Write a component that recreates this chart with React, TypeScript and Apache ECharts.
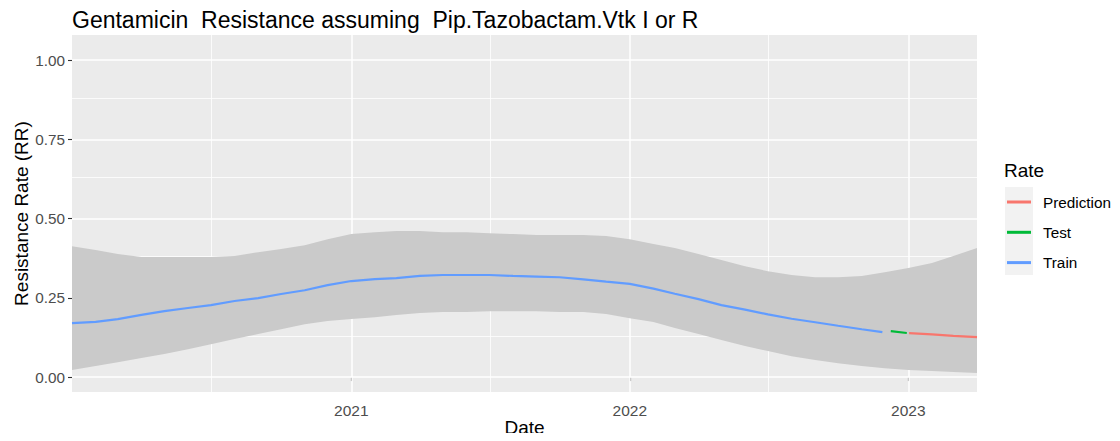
import React, { useEffect, useRef } from 'react';
import * as echarts from 'echarts';

// ---- data ----
const bandDates = [
  '2020-01-01', '2020-02-01', '2020-03-01', '2020-04-01', '2020-05-01', '2020-06-01',
  '2020-07-01', '2020-08-01', '2020-09-01', '2020-10-01', '2020-11-01', '2020-12-01',
  '2021-01-01', '2021-02-01', '2021-03-01', '2021-04-01', '2021-05-01', '2021-06-01',
  '2021-07-01', '2021-08-01', '2021-09-01', '2021-10-01', '2021-11-01', '2021-12-01',
  '2022-01-01', '2022-02-01', '2022-03-01', '2022-04-01', '2022-05-01', '2022-06-01',
  '2022-07-01', '2022-08-01', '2022-09-01', '2022-10-01', '2022-11-01', '2022-12-01',
  '2023-01-01', '2023-02-01', '2023-03-01', '2023-04-01',
];
const bandLower = [
  0.022, 0.035, 0.047, 0.060, 0.073, 0.088, 0.104, 0.120, 0.136, 0.151, 0.167, 0.177,
  0.183, 0.189, 0.196, 0.202, 0.205, 0.205, 0.208, 0.208, 0.208, 0.205, 0.205, 0.199,
  0.186, 0.174, 0.155, 0.136, 0.117, 0.098, 0.082, 0.066, 0.054, 0.044, 0.035, 0.028,
  0.022, 0.019, 0.016, 0.013,
];
const bandUpper = [
  0.413, 0.401, 0.388, 0.379, 0.379, 0.379, 0.379, 0.382, 0.394, 0.404, 0.416, 0.435,
  0.451, 0.457, 0.461, 0.461, 0.457, 0.457, 0.454, 0.451, 0.448, 0.448, 0.448, 0.445,
  0.435, 0.420, 0.407, 0.388, 0.369, 0.350, 0.334, 0.322, 0.315, 0.315, 0.319, 0.331,
  0.344, 0.360, 0.382, 0.407,
];

const trainDates = [
  '2020-01-01', '2020-02-01', '2020-03-01', '2020-04-01', '2020-05-01', '2020-06-01',
  '2020-07-01', '2020-08-01', '2020-09-01', '2020-10-01', '2020-11-01', '2020-12-01',
  '2021-01-01', '2021-02-01', '2021-03-01', '2021-04-01', '2021-05-01', '2021-06-01',
  '2021-07-01', '2021-08-01', '2021-09-01', '2021-10-01', '2021-11-01', '2021-12-01',
  '2022-01-01', '2022-02-01', '2022-03-01', '2022-04-01', '2022-05-01', '2022-06-01',
  '2022-07-01', '2022-08-01', '2022-09-01', '2022-10-01', '2022-11-01', '2022-11-28',
];
const trainRate = [
  0.170, 0.174, 0.183, 0.196, 0.208, 0.218, 0.227, 0.240, 0.249, 0.262, 0.274, 0.290,
  0.303, 0.309, 0.312, 0.319, 0.322, 0.322, 0.322, 0.319, 0.317, 0.315, 0.308, 0.301,
  0.294, 0.279, 0.263, 0.246, 0.227, 0.213, 0.198, 0.184, 0.173, 0.162, 0.151, 0.142,
];

const testDates = ['2022-12-09', '2022-12-30'];
const testRate = [0.145, 0.139];

const predDates = ['2023-01-02', '2023-02-01', '2023-03-01', '2023-04-01'];
const predRate = [0.139, 0.135, 0.130, 0.126];

const xRange = ['2020-01-01', '2023-04-01'];
const yTicks = [0, 0.25, 0.5, 0.75, 1];
const yMinor = [0.125, 0.375, 0.625, 0.875];
const xTickDates = ['2021-01-01', '2022-01-01', '2023-01-01'];
const xTickLabels = ['2021', '2022', '2023'];
const xMinorDates = ['2020-07-02', '2021-07-02', '2022-07-02'];
const legendNames = ['Prediction', 'Test', 'Train'];

const FONT = '"Liberation Sans", Arial, sans-serif';
const ts = (s: string) => Date.UTC(+s.slice(0, 4), +s.slice(5, 7) - 1, +s.slice(8, 10));
const pairs = (d: string[], v: number[]) => d.map((x, i) => [ts(x), v[i]]);

export default function App() {
  const ref = useRef<HTMLDivElement>(null);

  useEffect(() => {
    if (!ref.current) return;
    const chart = echarts.init(ref.current, null, { renderer: 'svg' });

    const tickTs = xTickDates.map(ts);
    const gridLines: any[] = [
      ...yTicks.map((v) => ({ yAxis: v, lineStyle: { width: 1.5 } })),
      ...yMinor.map((v) => ({ yAxis: v, lineStyle: { width: 0.8 } })),
      ...tickTs.map((v) => ({ xAxis: v, lineStyle: { width: 1.5 } })),
      ...xMinorDates.map((v) => ({ xAxis: ts(v), lineStyle: { width: 0.8 } })),
    ];

    const bandData = bandDates.map((d, i) => [ts(d), bandLower[i], bandUpper[i]]);

    chart.setOption({
      animation: false,
      backgroundColor: '#ffffff',
      textStyle: { fontFamily: FONT },
      title: [
        {
          text: 'Gentamicin  Resistance assuming  Pip.Tazobactam.Vtk I or R',
          left: 72,
          top: 8,
          padding: 0,
          textStyle: { fontFamily: FONT, fontSize: 23, fontWeight: 'normal', color: '#000000' },
        },
        {
          text: 'Rate',
          left: 1004,
          top: 161,
          padding: 0,
          textStyle: { fontFamily: FONT, fontSize: 19, fontWeight: 'normal', color: '#000000' },
        },
      ],
      graphic: [
        {
          type: 'rect',
          shape: { x: 1005, y: 187, width: 28, height: 88 },
          style: { fill: '#F2F2F2' },
          z: 0,
        },
      ],
      legend: {
        data: legendNames,
        orient: 'vertical',
        left: 1007,
        top: 193,
        padding: 0,
        icon: 'rect',
        itemWidth: 24,
        itemHeight: 3,
        itemGap: 12.3,
        textStyle: { fontFamily: FONT, fontSize: 15.3, color: '#000000', lineHeight: 18, padding: [0, 0, 0, 7] },
      },
      grid: {
        left: 72,
        right: 143,
        top: 35,
        bottom: 49,
        show: true,
        backgroundColor: '#EBEBEB',
        borderWidth: 0,
        containLabel: false,
        outerBoundsMode: 'none',
      },
      xAxis: {
        type: 'value',
        min: ts(xRange[0]),
        max: ts(xRange[1]),
        name: 'Date',
        nameLocation: 'middle',
        nameGap: 25,
        nameMoveOverlap: false,
        nameTextStyle: { fontFamily: FONT, fontSize: 19, color: '#000000', lineHeight: 20 },
        axisLine: { show: false },
        axisTick: {
          show: true,
          length: 4,
          lineStyle: { color: '#333333', width: 1.1 },
          customValues: tickTs,
        },
        axisLabel: {
          show: true,
          margin: 10,
          color: '#4D4D4D',
          fontSize: 15.5,
          fontFamily: FONT,
          customValues: tickTs,
          formatter: (v: number) => {
            const i = tickTs.indexOf(v);
            return i >= 0 ? xTickLabels[i] : '';
          },
        },
        splitLine: { show: false },
      },
      yAxis: {
        type: 'value',
        min: -0.047,
        max: 1.079,
        name: 'Resistance Rate (RR)',
        nameLocation: 'middle',
        nameGap: 41,
        nameMoveOverlap: false,
        nameTextStyle: { fontFamily: FONT, fontSize: 19, color: '#000000' },
        axisLine: { show: false },
        axisTick: {
          show: true,
          length: 4,
          lineStyle: { color: '#333333', width: 1.1 },
          customValues: yTicks,
        },
        axisLabel: {
          show: true,
          margin: 7,
          color: '#4D4D4D',
          fontSize: 15.3,
          fontFamily: FONT,
          customValues: yTicks,
          formatter: (v: number) => v.toFixed(2),
        },
        splitLine: { show: false },
      },
      series: [
        {
          name: 'grid',
          type: 'line',
          data: [],
          silent: true,
          z: 1,
          markLine: {
            silent: true,
            symbol: ['none', 'none'],
            label: { show: false },
            z: 1,
            animation: false,
            emphasis: { disabled: true },
            lineStyle: { color: '#ffffff', type: 'solid' },
            data: gridLines,
          },
        },
        {
          name: 'band',
          type: 'custom',
          data: bandData,
          silent: true,
          z: 2,
          encode: { x: 0, y: [1, 2] },
          renderItem: (params: any, api: any) => {
            if (params.dataIndex !== 0) return { type: 'group', children: [] };
            const upper = bandData.map((r) => api.coord([r[0], r[2]]));
            const lower = bandData.map((r) => api.coord([r[0], r[1]])).reverse();
            return {
              type: 'polygon',
              shape: { points: upper.concat(lower) },
              style: { fill: '#CACACA', stroke: 'none' },
            };
          },
        },
        {
          name: 'Train',
          type: 'line',
          data: pairs(trainDates, trainRate),
          symbol: 'none',
          color: '#619CFF',
          z: 3,
          lineStyle: { width: 2.2, color: '#619CFF' },
          emphasis: { disabled: true },
        },
        {
          name: 'Test',
          type: 'line',
          data: pairs(testDates, testRate),
          symbol: 'none',
          color: '#00BA38',
          z: 3,
          lineStyle: { width: 2.2, color: '#00BA38' },
          emphasis: { disabled: true },
        },
        {
          name: 'Prediction',
          type: 'line',
          data: pairs(predDates, predRate),
          symbol: 'none',
          color: '#F8766D',
          z: 3,
          lineStyle: { width: 2.2, color: '#F8766D' },
          emphasis: { disabled: true },
        },
      ],
    });

    return () => chart.dispose();
  }, []);

  return <div ref={ref} style={{ width: 1120, height: 441, margin: -8 }} />;
}
